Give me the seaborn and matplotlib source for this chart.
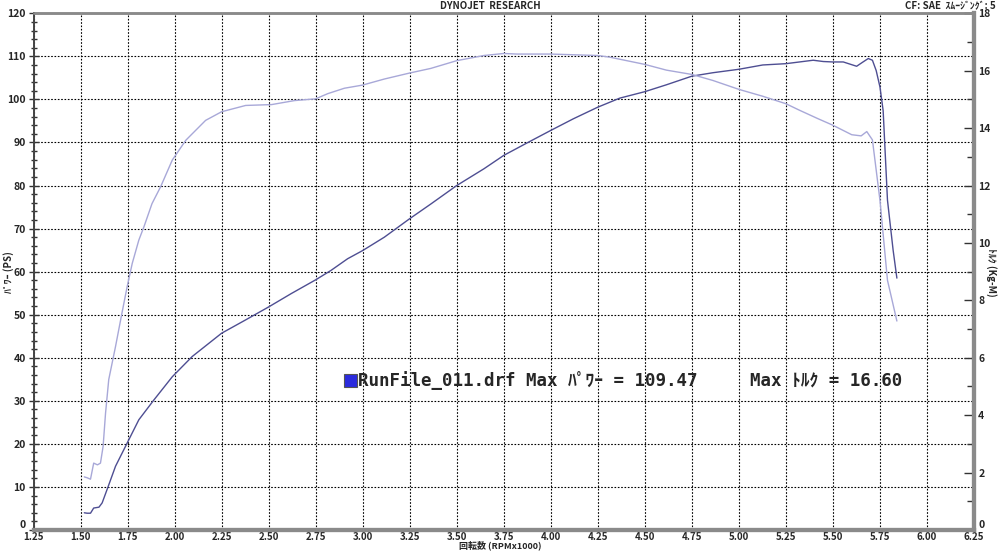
import matplotlib
matplotlib.use("Agg")
import matplotlib.pyplot as plt
from matplotlib.ticker import MultipleLocator, FormatStrFormatter
from matplotlib.patches import Rectangle
import seaborn as sns
import pandas as pd

# ---- data ----
rpm_power = [1.52, 1.535, 1.553, 1.57, 1.598, 1.615, 1.647, 1.686, 1.748, 1.81, 1.89, 1.988,
             2.094, 2.25, 2.378, 2.5, 2.62, 2.75, 2.832, 2.92, 3.0, 3.115, 3.25, 3.362, 3.5,
             3.645, 3.75, 3.874, 4.0, 4.12, 4.25, 4.367, 4.5, 4.615, 4.75, 4.862, 5.0, 5.127,
             5.25, 5.395, 5.449, 5.5, 5.555, 5.626, 5.66, 5.688, 5.71, 5.73, 5.75, 5.767,
             5.79, 5.82, 5.84]
power_ps = [4.0, 3.9, 3.9, 5.1, 5.3, 6.3, 10.1, 14.8, 20.2, 25.6, 30.2, 35.6,
            40.3, 45.7, 48.8, 51.8, 54.9, 58.1, 60.3, 63.0, 64.9, 68.0, 72.3, 75.7, 80.0,
            83.9, 87.0, 89.9, 92.8, 95.5, 98.2, 100.3, 101.8, 103.4, 105.4, 106.2, 107.0, 108.0,
            108.3, 109.1, 108.8, 108.7, 108.7, 107.7, 108.7, 109.5, 109.1, 106.7, 102.9, 97.4,
            76.6, 65.0, 58.5]

rpm_torque = [1.52, 1.535, 1.553, 1.57, 1.59, 1.606, 1.62, 1.633, 1.65, 1.686, 1.72, 1.748,
              1.775, 1.81, 1.837, 1.88, 1.926, 1.988, 2.06, 2.165, 2.25, 2.378, 2.516, 2.638,
              2.75, 2.814, 2.903, 3.0, 3.115, 3.25, 3.362, 3.5, 3.645, 3.75, 3.82, 4.0, 4.25,
              4.315, 4.5, 4.615, 4.75, 4.862, 5.0, 5.127, 5.25, 5.32, 5.42, 5.5, 5.6, 5.65,
              5.68, 5.71, 5.75, 5.79, 5.84]
torque_kgm = [1.85, 1.82, 1.77, 2.33, 2.27, 2.33, 2.91, 4.07, 5.24, 6.39, 7.55, 8.48,
              9.29, 10.10, 10.56, 11.37, 11.96, 12.89, 13.58, 14.27, 14.57, 14.79, 14.82, 14.96,
              15.02, 15.20, 15.39, 15.50, 15.71, 15.92, 16.08, 16.35, 16.53, 16.60, 16.58, 16.58, 16.53,
              16.47, 16.22, 16.02, 15.87, 15.66, 15.35, 15.11, 14.85, 14.63, 14.33, 14.10, 13.77, 13.73,
              13.88, 13.59, 11.49, 8.70, 7.28]

x_ticks = [1.25, 1.50, 1.75, 2.00, 2.25, 2.50, 2.75, 3.00, 3.25, 3.50, 3.75, 4.00,
           4.25, 4.50, 4.75, 5.00, 5.25, 5.50, 5.75, 6.00, 6.25]
ps_ticks = [0, 10, 20, 30, 40, 50, 60, 70, 80, 90, 100, 110, 120]
kgm_ticks = [0, 2, 4, 6, 8, 10, 12, 14, 16, 18]

title_text = "DYNOJET  RESEARCH"
cf_text = "CF: SAE  ｽﾑｰｼﾞﾝｸﾞ: 5"
xlabel = "回転数 (RPMx1000)"
ylabel_left = "ﾊﾟﾜｰ (PS)"
ylabel_right = "ﾄﾙｸ (Kg-M)"
legend_text = "RunFile_011.drf Max ﾊﾟﾜｰ = 109.47     Max ﾄﾙｸ = 16.60"

# ---- style ----
sns.set_theme(style="white")
plt.rcParams['font.family'] = ['Noto Sans CJK JP', 'DejaVu Sans']

dark = '#4e4e92'
light = '#a8a8d8'

fig = plt.figure(figsize=(10, 5.51), dpi=100)
W, H = 1000, 551
x0, x1 = 33.5, 974
y_top, y_bot = 13.3, 530
ax = fig.add_axes([x0 / W, (H - y_bot) / H, (x1 - x0) / W, (y_bot - y_top) / H])
ax2 = ax.twinx()

df_p = pd.DataFrame({"rpm": rpm_power, "ps": power_ps})
df_t = pd.DataFrame({"rpm": rpm_torque, "kgm": torque_kgm})

sns.lineplot(data=df_p, x="rpm", y="ps", ax=ax, color=dark, lw=1.0, sort=False)
sns.lineplot(data=df_t, x="rpm", y="kgm", ax=ax2, color=light, lw=1.0, sort=False)

ax.set_xlim(1.25, 6.25)
ax.set_ylim(0, 120)
ax2.set_ylim(0, 18)

ax.set_xticks(x_ticks)
ax.xaxis.set_major_formatter(FormatStrFormatter('%.2f'))
ax.xaxis.set_minor_locator(MultipleLocator(0.05))
ax.set_yticks(ps_ticks)
ax.yaxis.set_minor_locator(MultipleLocator(2))
ax2.set_yticks(kgm_ticks)
ax2.yaxis.set_minor_locator(MultipleLocator(1))

ax.grid(True, which='major', color='black', linestyle=(0, (1.5, 1.5)), lw=0.8)
ax2.grid(False)
ax.set_axisbelow(True)

for lab in ax.get_yticklabels() + ax2.get_yticklabels():
    lab.set_fontfamily(['Noto Sans CJK JP', 'DejaVu Sans'])
    lab.set_fontweight('bold')
    lab.set_fontsize(7.5)
for lab in ax.get_xticklabels():
    lab.set_fontfamily(['Noto Sans CJK JP', 'DejaVu Sans'])
    lab.set_fontweight('bold')
    lab.set_fontsize(7)

# the "0" labels sit just above the bottom axis, as in the reference
ax.get_yticklabels()[0].set_verticalalignment('bottom')
ax2.get_yticklabels()[0].set_verticalalignment('bottom')

ax.tick_params(axis='x', which='major', direction='inout', length=7, width=1, color='#333333', pad=-2)
ax.tick_params(axis='x', which='minor', direction='inout', length=5, width=1, color='#333333')
ax.tick_params(axis='y', which='major', direction='inout', length=7, width=1, color='#333333', pad=2)
ax.tick_params(axis='y', which='minor', direction='inout', length=5, width=1, color='#333333')
ax2.tick_params(axis='y', which='major', direction='in', length=7, width=1, color='#333333', pad=3)
ax2.tick_params(axis='y', which='minor', direction='in', length=5, width=1, color='#333333')

for a in (ax, ax2):
    a.spines['left'].set_color('#444444')
    a.spines['left'].set_linewidth(1.2)
    a.spines['bottom'].set_color('#8a8a8a')
    a.spines['bottom'].set_linewidth(3)
    a.spines['right'].set_color('#8a8a8a')
    a.spines['right'].set_linewidth(3)
    a.spines['top'].set_color('#8a8a8a')
    a.spines['top'].set_linewidth(1.8)
    a.set_xlabel('')
    a.set_ylabel('')

# ---- texts ----
def fx(px):
    return px / W

def fy(py):
    return 1 - py / H

fig.text(fx(490), fy(6), title_text, ha='center', va='center', fontsize=7, weight='bold')
fig.text(fx(996), fy(6), cf_text, ha='right', va='center', fontsize=7, weight='bold')
fig.text(fx(500), fy(550.5), xlabel, ha='center', va='bottom', fontsize=6.5, weight='bold')
fig.text(fx(9), fy(272), ylabel_left, ha='center', va='center', rotation=90, fontsize=7, weight='bold')
fig.text(fx(991), fy(272), ylabel_right, ha='center', va='center', rotation=-90, fontsize=7, weight='bold')

fig.text(fx(358), fy(381), legend_text, ha='left', va='center', fontsize=12.6, weight='bold',
         family=['DejaVu Sans Mono', 'Noto Sans CJK JP'])
fig.patches.append(Rectangle((fx(344), fy(387)), 13 / W, 13 / H, transform=fig.transFigure,
                             facecolor='#2b2bdd', edgecolor='#555555', lw=0.8))

fig.savefig("out.png", dpi=100)
